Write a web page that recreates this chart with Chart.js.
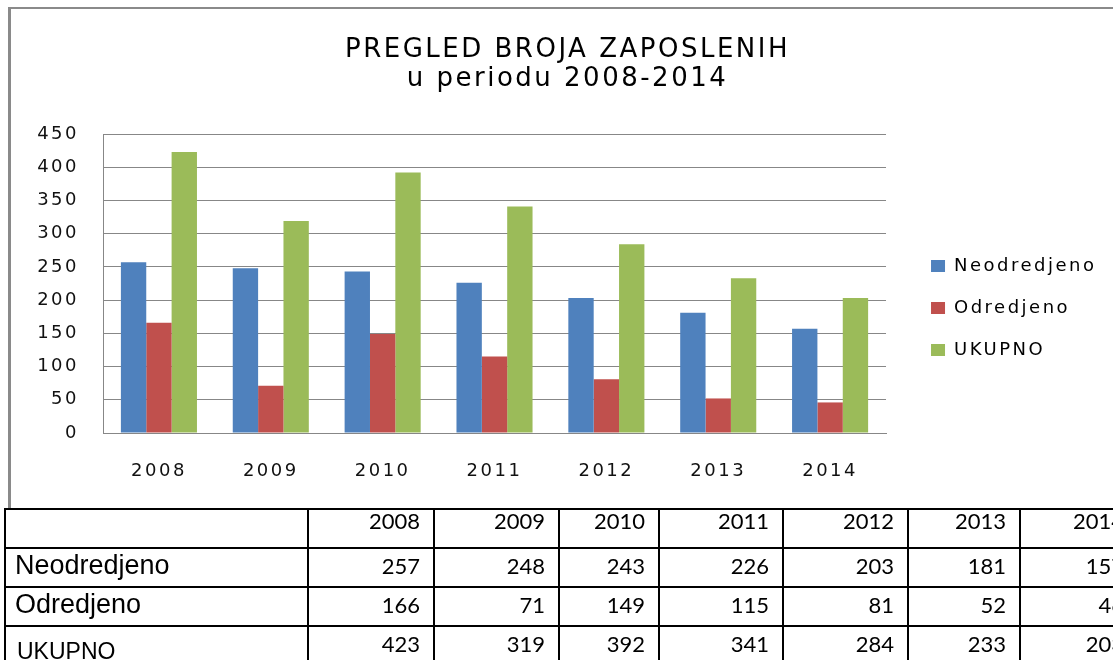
<!DOCTYPE html>
<html>
<head>
<meta charset="utf-8">
<script src="https://cdn.jsdelivr.net/npm/chart.js@4/dist/chart.umd.min.js"></script>
<style>
html,body{margin:0;padding:0;background:#fff;width:1113px;height:660px;overflow:hidden;position:relative;}
#frame{position:absolute;left:8px;top:7px;width:1200px;height:500px;border-left:3px solid #8a8a8a;border-top:2px solid #8a8a8a;background:#fff;}
#c{position:absolute;left:11px;top:9px;}
#tbl{position:absolute;left:4px;top:508px;border-collapse:collapse;table-layout:fixed;width:1133px;}
#tbl td{border:2px solid #000;padding:0 13px 0 0;height:37px;text-align:right;font-family:Lato,sans-serif;font-size:22px;line-height:22px;vertical-align:middle;color:#000;white-space:nowrap;overflow:hidden;}
#tbl tr.head td{vertical-align:top;}
#tbl td.lbl{text-align:left;padding:0 0 0 9px;font-family:'Liberation Sans',Arial,sans-serif;font-size:27px;line-height:30px;}
#tbl td.lbl span{position:relative;top:-3px;}
#tbl td.lbl.small{font-size:23px;padding-left:11px;}
#tbl td.lbl.small span{top:5px;}
#tbl td.num span{position:relative;top:-2px;}
</style>
</head>
<body>
<div id="frame"></div>
<canvas id="c" width="1104" height="500"></canvas>
<table id="tbl">
<colgroup>
<col style="width:303px"><col style="width:126px"><col style="width:125px"><col style="width:100px"><col style="width:124px"><col style="width:125px"><col style="width:112px"><col style="width:118px">
</colgroup>
<tbody id="tb"></tbody>
</table>
<script>
// ---- data ----
const years = ['2008','2009','2010','2011','2012','2013','2014'];
const seriesNames = ['Neodredjeno','Odredjeno','UKUPNO'];
const neodredjeno = [257,248,243,226,203,181,157];
const odredjeno = [166,71,149,115,81,52,46];
const ukupno = [423,319,392,341,284,233,203];
const titleLines = ['PREGLED BROJA ZAPOSLENIH','u periodu 2008-2014'];
const yMin = 0, yMax = 450, yStep = 50;

const colors = ['#4F81BD','#C0504D','#9BBB59'];
const seriesValues = [neodredjeno, odredjeno, ukupno];

// ---- table ----
const tb = document.getElementById('tb');
let html = '<tr class="head"><td class="lbl"></td>' + years.map(y => '<td>' + y + '</td>').join('') + '</tr>';
seriesNames.forEach((n, i) => {
  html += '<tr><td class="lbl' + (i === 2 ? ' small' : '') + '"><span>' + n + '</span></td>' +
    seriesValues[i].map(v => '<td class="num"><span>' + v + '</span></td>').join('') + '</tr>';
});
tb.innerHTML = html;

// ---- chart ----
Chart.defaults.font.family = "'DejaVu Sans', sans-serif";
Chart.defaults.color = '#111';

const SP = '2.5px';
const spacing = {
  id: 'spacing',
  afterInit(c){ c.ctx.letterSpacing = SP; },
  beforeUpdate(c){ c.ctx.letterSpacing = SP; },
  beforeLayout(c){ c.ctx.letterSpacing = SP; },
  beforeDraw(c){ c.ctx.letterSpacing = SP; }
};

const gridColor = '#878787';

new Chart(document.getElementById('c'), {
  type: 'bar',
  data: {
    labels: years,
    datasets: seriesNames.map((n, i) => ({
      label: n,
      data: seriesValues[i],
      backgroundColor: colors[i],
      borderWidth: 0,
      categoryPercentage: 0.68,
      barPercentage: 1.0
    }))
  },
  options: {
    responsive: false,
    animation: false,
    devicePixelRatio: 1,
    layout: { padding: { left: 17.5, right: 8.5, top: 0, bottom: 0 } },
    plugins: {
      tooltip: { enabled: false },
      title: {
        display: true,
        text: titleLines,
        color: '#000',
        font: { size: 26, weight: 'normal', lineHeight: '29px' },
        padding: { top: 26.5, bottom: 40.5 }
      },
      legend: {
        display: true,
        position: 'right',
        fullSize: false,
        maxWidth: 400,
        title: { display: true, text: '', font: { size: 10, lineHeight: '12px' }, padding: { top: 37, bottom: 0 } },
        labels: {
          boxWidth: 14,
          boxHeight: 12,
          padding: 24,
          color: '#000',
          font: { size: 18 }
        }
      }
    },
    scales: {
      x: {
        grid: { display: false, drawTicks: false },
        border: { display: true, color: gridColor, width: 1 },
        ticks: { font: { size: 18 }, padding: 28, color: '#111' },
        afterFit(s){ s.height = 76; }
      },
      y: {
        min: yMin, max: yMax,
        ticks: { stepSize: yStep, font: { size: 18 }, padding: 24, color: '#111' },
        grid: { color: gridColor, lineWidth: 1, drawTicks: false },
        border: { display: true, color: gridColor, width: 1 },
        afterFit(s){ s.width = 74.5; }
      },
      y2: {
        type: 'linear',
        position: 'right',
        display: true,
        grid: { display: false, drawTicks: false },
        ticks: { display: false },
        border: { display: false },
        afterFit(s){ s.width = 21; }
      }
    }
  },
  plugins: [spacing]
});
</script>
</body>
</html>
